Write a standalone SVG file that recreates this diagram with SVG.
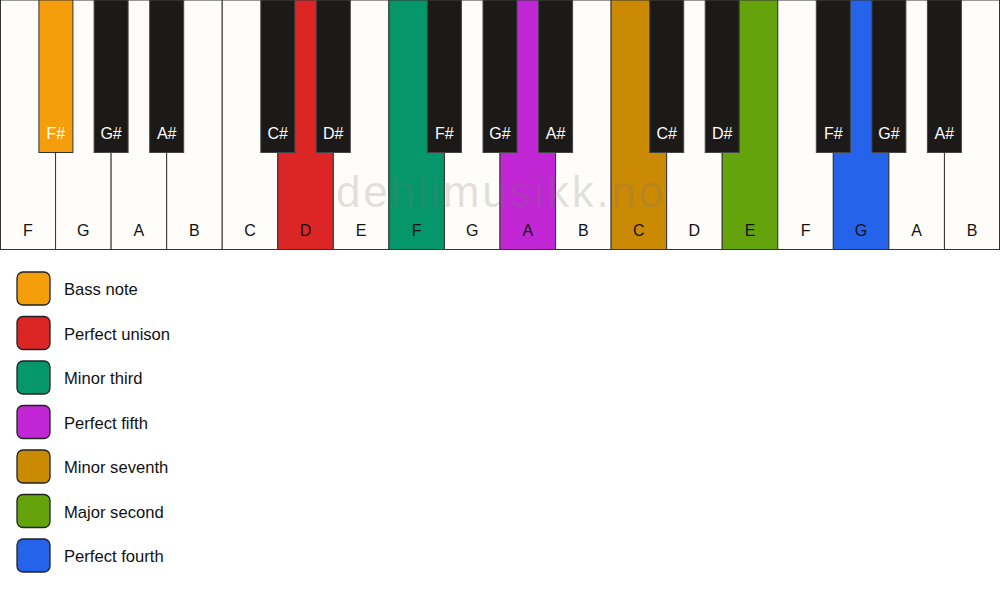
<svg xmlns="http://www.w3.org/2000/svg" width="1000" height="594" viewBox="0 0 1000 594">
<style>
.w{fill:#fffdf9;stroke:#333;stroke-width:1}
.b{fill:#1b1a19;stroke:#444;stroke-width:1}
.lw{font-family:"Liberation Sans",Arial,sans-serif;font-size:16px;fill:#111;text-anchor:middle}
.lb{font-family:"Liberation Sans",Arial,sans-serif;font-size:16px;fill:#fff;text-anchor:middle}
.lg{font-family:"Liberation Sans",Arial,sans-serif;font-size:16.6px;fill:#111}
.sw{stroke:#222;stroke-width:1.3}
.wm{font-family:"Liberation Sans",Arial,sans-serif;font-size:44px;fill:#777;fill-opacity:0.22;text-anchor:middle;letter-spacing:2.8px}
</style>
<rect width="1000" height="594" fill="#ffffff"/>
<g id="white-keys">
<g id="wk-F1"><rect class="w" x="0.5" y="0" width="55.06" height="249.5"/><text class="lw" x="27.8" y="236">F</text></g>
<g id="wk-G1"><rect class="w" x="55.56" y="0" width="55.56" height="249.5"/><text class="lw" x="83.3" y="236">G</text></g>
<g id="wk-A1"><rect class="w" x="111.11" y="0" width="55.56" height="249.5"/><text class="lw" x="138.9" y="236">A</text></g>
<g id="wk-B1"><rect class="w" x="166.67" y="0" width="55.56" height="249.5"/><text class="lw" x="194.4" y="236">B</text></g>
<g id="wk-C1"><rect class="w" x="222.22" y="0" width="55.56" height="249.5"/><text class="lw" x="250" y="236">C</text></g>
<g id="wk-D1"><rect class="w" x="277.78" y="0" width="55.56" height="249.5" style="fill:#dc2626"/><text class="lw" x="305.6" y="236">D</text></g>
<g id="wk-E1"><rect class="w" x="333.33" y="0" width="55.56" height="249.5"/><text class="lw" x="361.1" y="236">E</text></g>
<g id="wk-F2"><rect class="w" x="388.89" y="0" width="55.56" height="249.5" style="fill:#059669"/><text class="lw" x="416.7" y="236">F</text></g>
<g id="wk-G2"><rect class="w" x="444.44" y="0" width="55.56" height="249.5"/><text class="lw" x="472.2" y="236">G</text></g>
<g id="wk-A2"><rect class="w" x="500" y="0" width="55.56" height="249.5" style="fill:#c026d3"/><text class="lw" x="527.8" y="236">A</text></g>
<g id="wk-B2"><rect class="w" x="555.56" y="0" width="55.56" height="249.5"/><text class="lw" x="583.3" y="236">B</text></g>
<g id="wk-C2"><rect class="w" x="611.11" y="0" width="55.56" height="249.5" style="fill:#ca8a04"/><text class="lw" x="638.9" y="236">C</text></g>
<g id="wk-D2"><rect class="w" x="666.67" y="0" width="55.56" height="249.5"/><text class="lw" x="694.4" y="236">D</text></g>
<g id="wk-E2"><rect class="w" x="722.22" y="0" width="55.56" height="249.5" style="fill:#65a30d"/><text class="lw" x="750" y="236">E</text></g>
<g id="wk-F3"><rect class="w" x="777.78" y="0" width="55.56" height="249.5"/><text class="lw" x="805.6" y="236">F</text></g>
<g id="wk-G3"><rect class="w" x="833.33" y="0" width="55.56" height="249.5" style="fill:#2563eb"/><text class="lw" x="861.1" y="236">G</text></g>
<g id="wk-A3"><rect class="w" x="888.89" y="0" width="55.56" height="249.5"/><text class="lw" x="916.7" y="236">A</text></g>
<g id="wk-B3"><rect class="w" x="944.44" y="0" width="55.06" height="249.5"/><text class="lw" x="972.2" y="236">B</text></g>
</g>
<text class="wm" x="501" y="207">dehlimusikk.no</text>
<g id="black-keys">
<g id="bk-Fs1"><rect class="b" x="38.9" y="0" width="34" height="152.5" style="fill:#f59e0b;stroke:#333"/><text class="lb" x="55.9" y="139">F#</text></g>
<g id="bk-Gs1"><rect class="b" x="94.1" y="0" width="34" height="152.5"/><text class="lb" x="111.1" y="139">G#</text></g>
<g id="bk-As1"><rect class="b" x="149.7" y="0" width="34" height="152.5"/><text class="lb" x="166.7" y="139">A#</text></g>
<g id="bk-Cs1"><rect class="b" x="260.8" y="0" width="34" height="152.5"/><text class="lb" x="277.8" y="139">C#</text></g>
<g id="bk-Ds1"><rect class="b" x="316.3" y="0" width="34" height="152.5"/><text class="lb" x="333.3" y="139">D#</text></g>
<g id="bk-Fs2"><rect class="b" x="427.4" y="0" width="34" height="152.5"/><text class="lb" x="444.4" y="139">F#</text></g>
<g id="bk-Gs2"><rect class="b" x="483" y="0" width="34" height="152.5"/><text class="lb" x="500" y="139">G#</text></g>
<g id="bk-As2"><rect class="b" x="538.6" y="0" width="34" height="152.5"/><text class="lb" x="555.6" y="139">A#</text></g>
<g id="bk-Cs2"><rect class="b" x="649.7" y="0" width="34" height="152.5"/><text class="lb" x="666.7" y="139">C#</text></g>
<g id="bk-Ds2"><rect class="b" x="705.2" y="0" width="34" height="152.5"/><text class="lb" x="722.2" y="139">D#</text></g>
<g id="bk-Fs3"><rect class="b" x="816.3" y="0" width="34" height="152.5"/><text class="lb" x="833.3" y="139">F#</text></g>
<g id="bk-Gs3"><rect class="b" x="871.9" y="0" width="34" height="152.5"/><text class="lb" x="888.9" y="139">G#</text></g>
<g id="bk-As3"><rect class="b" x="927.4" y="0" width="34" height="152.5"/><text class="lb" x="944.4" y="139">A#</text></g>
</g>
<g id="legend">
<g id="lg-bass"><rect class="sw" x="17" y="272" width="33" height="33" rx="6" fill="#f59e0b"/><text class="lg" x="64" y="295">Bass note</text></g>
<g id="lg-unison"><rect class="sw" x="17" y="316.5" width="33" height="33" rx="6" fill="#dc2626"/><text class="lg" x="64" y="339.5">Perfect unison</text></g>
<g id="lg-m3"><rect class="sw" x="17" y="361" width="33" height="33" rx="6" fill="#059669"/><text class="lg" x="64" y="384">Minor third</text></g>
<g id="lg-p5"><rect class="sw" x="17" y="405.5" width="33" height="33" rx="6" fill="#c026d3"/><text class="lg" x="64" y="428.5">Perfect fifth</text></g>
<g id="lg-m7"><rect class="sw" x="17" y="450" width="33" height="33" rx="6" fill="#ca8a04"/><text class="lg" x="64" y="473">Minor seventh</text></g>
<g id="lg-M2"><rect class="sw" x="17" y="494.5" width="33" height="33" rx="6" fill="#65a30d"/><text class="lg" x="64" y="517.5">Major second</text></g>
<g id="lg-p4"><rect class="sw" x="17" y="539" width="33" height="33" rx="6" fill="#2563eb"/><text class="lg" x="64" y="562">Perfect fourth</text></g>
</g>
<g id="connectors"/>
</svg>
